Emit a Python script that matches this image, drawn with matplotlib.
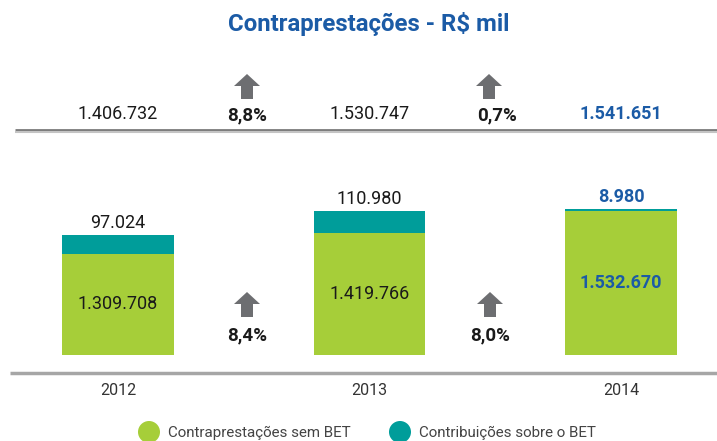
import matplotlib.pyplot as plt
from matplotlib.patches import FancyArrow, Circle

years = ['2012', '2013', '2014']
sem_bet = [1309708, 1419766, 1532670]
contrib_bet = [97024, 110980, 8980]
totals = [1406732, 1530747, 1541651]
growth_total = ['8,8%', '0,7%']
growth_sem = ['8,4%', '8,0%']

GREEN = '#a6ce39'
TEAL = '#009d9a'
BLUE = '#1b5ba6'
ARROW = '#6d6e71'
TXT = '#1a1a1a'

plt.rcParams['font.family'] = ['Roboto', 'DejaVu Sans']


def fmt(v):
    return f'{v:,}'.replace(',', '.')


W, H = 717, 441
fig = plt.figure(figsize=(W / 100, H / 100), dpi=100)

# overlay in pixel coords for decorations
ov = fig.add_axes([0, 0, 1, 1])
ov.set_xlim(0, W)
ov.set_ylim(H, 0)
ov.axis('off')

# bar axes: baseline at px 355, top at px 130
base_px, top_px = 355, 130
ax = fig.add_axes([0, (H - base_px) / H, 1, (base_px - top_px) / H])
step = 251.5
ax.set_xlim(-118 / step, (W - 118) / step)
v0 = 789000
ax.set_ylim(v0, v0 + (base_px - top_px) / 1.94e-4)
ax.patch.set_alpha(0)
for s in ax.spines.values():
    s.set_visible(False)
ax.set_yticks([])

x = list(range(len(years)))
width = 0.445
ax.bar(x, [v - v0 for v in sem_bet], width, bottom=v0, color=GREEN)
ax.bar(x, contrib_bet, width, bottom=sem_bet, color=TEAL)
ax.set_xticks(x, years)
ax.tick_params(length=0, pad=20, labelsize=11.5, labelcolor='#333333')

for i in x:
    last = i == len(years) - 1
    col = BLUE if last else TXT
    wt = 'bold' if last else 'normal'
    ax.text(i, (v0 + sem_bet[i]) / 2, fmt(sem_bet[i]), ha='center', va='center',
            fontsize=13, color=col, fontweight=wt)
    ax.annotate(fmt(contrib_bet[i]), (i, sem_bet[i] + contrib_bet[i]),
                xytext=(0, 2), textcoords='offset points', ha='center', va='bottom',
                fontsize=13, color=col, fontweight=wt)

# title
ov.text(368.5, 24, 'Contraprestações - R$ mil', ha='center', va='center',
        fontsize=17.3, fontweight='bold', color=BLUE)

# totals row, centred over the bars
for i, t in enumerate(totals):
    last = i == len(totals) - 1
    xc = ov.transData.inverted().transform(ax.transData.transform((i, 0)))[0]
    ov.text(xc, 114, fmt(t), ha='center', va='center', fontsize=13,
            color=BLUE if last else TXT, fontweight='bold' if last else 'normal')


def up_arrow(cx, ybot):
    ov.add_patch(FancyArrow(cx, ybot, 0, -25, width=12, head_width=26,
                            head_length=12, length_includes_head=True,
                            color=ARROW, lw=0))


for ax_x, tx_x, g in zip([247, 489], [247, 497], growth_total):
    up_arrow(ax_x, 99)
    ov.text(tx_x, 115, g, ha='center', va='center', fontsize=13.5,
            fontweight='bold', color=TXT)

for cx, g in zip([247, 490], growth_sem):
    up_arrow(cx, 317)
    ov.text(cx, 335, g, ha='center', va='center', fontsize=13.5,
            fontweight='bold', color=TXT)

# separator lines
ov.plot([15, W], [129.5, 129.5], color='#7a7a7a', lw=2, solid_capstyle='butt')
ov.plot([15, W], [131.8, 131.8], color='#c4c4c4', lw=1.5, solid_capstyle='butt')
ov.plot([10, W], [373, 373], color='#a6a6a6', lw=2.5, solid_capstyle='butt')

# legend
for cx, col, lab in [(149, GREEN, 'Contraprestações sem BET'),
                     (400, TEAL, 'Contribuições sobre o BET')]:
    ov.add_patch(Circle((cx, 432), 11, color=col, lw=0))
    ov.text(cx + 19, 433, lab, ha='left', va='center', fontsize=10.9,
            color='#444444')

fig.savefig('out.png', dpi=100)
